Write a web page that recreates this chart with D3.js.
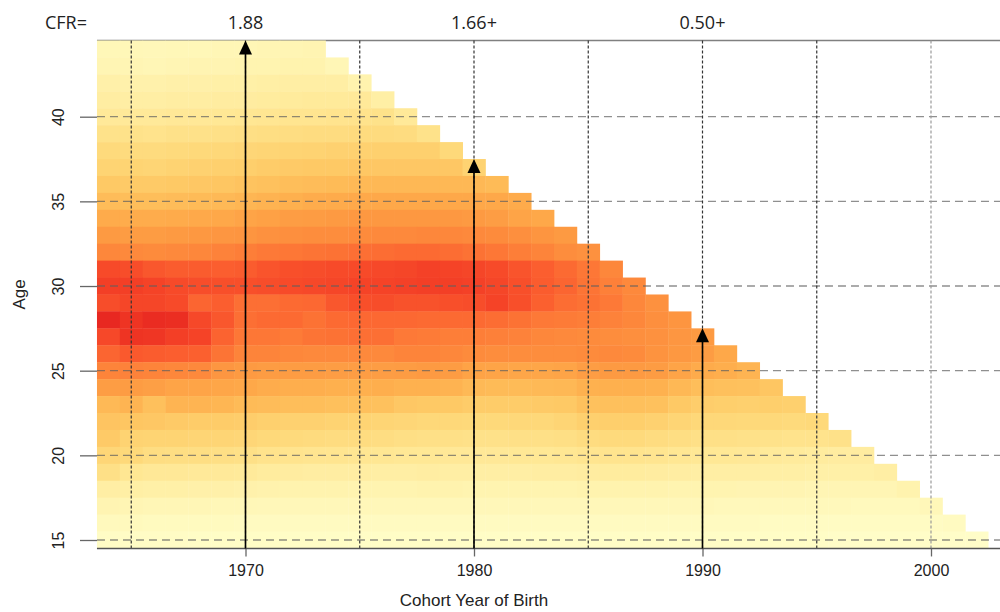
<!DOCTYPE html>
<meta charset="utf-8">
<style>
body { margin: 0; background: #fff; }
text { font-family: "Liberation Sans", Arial, sans-serif; fill: #222; }
.tick text { font-size: 16px; }
.title { font-size: 17px; }
.cfr { font-family: "Open Sans", "Noto Sans", sans-serif; font-size: 18px; fill: #222; }
</style>
<body>

<script src="https://d3js.org/d3.v7.min.js"></script>
<script>

// cohort fertility rates per 1000 women, one row per age (44 down to 15),
// each row starts at the 1964 cohort and stops at the last observed cohort
var firstCohort = 1964;
var ages = [44,43,42,41,40,39,38,37,36,35,34,33,32,31,30,29,28,27,26,25,24,23,22,21,20,19,18,17,16,15];
var rates = [
  [11,11,10,11,11,12,12,13,13,14],
  [13,13,12,13,14,14,15,15,16,16, 12],
  [19,18,18,19,19,20,20,21,22,22, 22,16],
  [23,22,22,23,23,24,24,25,26,27, 27,28,21],
  [28,28,28,29,29,30,31,32,33,33, 34,35,36,28],
  [36,36,35,37,37,38,39,40,41,42, 42,43,43,42,36],
  [44,43,43,44,45,46,47,48,49,50, 51,51,52,52,52,45],
  [49,49,48,50,51,52,53,55,56,57, 57,58,58,58,58,58,50],
  [57,56,56,57,58,59,61,62,64,65, 66,67,68,68,68,68,68,66],
  [65,64,64,65,66,67,69,71,73,75, 76,77,78,78,78,78,78,78,76],
  [76,75,75,76,77,78,80,82,84,85, 86,87,87,87,87,87,86,84,80,78],
  [86,85,85,86,87,88,89,91,92,93, 93,94,95,95,96,96,95,94,92,89, 86],
  [96,95,94,95,96,98,100,102,103,104, 105,106,107,108,108,107,105,103,100,97, 93,91],
  [121,120,116,114,114,113,114,117,119,120, 121,121,122,123,125,124,123,121,117,113, 108,103,96],
  [126,126,124,121,120,119,119,120,121,122, 123,124,124,125,126,126,125,123,119,114, 110,104,99,95],
  [120,123,123,121,110,113,106,106,108,109, 116,119,120,118,118,119,120,124,119,112, 107,105,102,96,91],
  [137,131,135,134,122,116,106,108,108,105, 108,109,109,109,108,108,108,107,105,102, 101,100,98,96,92,89],
  [122,131,130,126,124,111,103,103,101,104, 105,106,106,102,101,100,100,99,98,96, 95,94,93,92,91,88,86],
  [110,115,114,113,112,104,97,97,96,95, 95,95,95,97,97,96,94,93,93,93, 93,94,95,94,90,87,85,78],
  [97,98,97,96,95,88,86,85,85,85, 84,84,84,85,86,85,81,80,79,79, 80,84,86,86,85,80,76,74,70],
  [84,85,83,80,80,79,78,75,74,74, 73,73,74,72,72,71,67,66,66,67, 68,72,73,73,72,68,64,63,62,59],
  [67,70,63,70,70,69,66,65,64,64, 63,63,62,58,57,57,55,55,55,56, 57,62,63,63,62,57,54,53,52,53, 52],
  [60,59,58,56,55,55,54,52,51,51, 50,49,48,47,46,46,45,45,46,46, 48,52,53,53,51,48,46,46,45,45, 44,45],
  [56,50,49,49,48,48,47,45,44,43, 42,42,41,39,38,38,37,37,38,38, 39,42,44,44,42,40,38,38,37,36, 35,35,37],
  [47,45,41,40,40,39,38,35,34,33, 33,32,31,30,30,29,29,29,30,30, 31,33,34,34,33,31,30,30,29,27, 26,25,24,24],
  [38,31,29,29,28,28,27,25,24,23, 23,23,22,22,23,22,22,22,22,23, 23,24,25,25,24,23,22,22,22,21, 21,20,20,20,22],
  [22,21,20,20,19,19,18,17,16,16, 16,15,15,15,16,16,15,15,15,15, 15,16,16,16,16,15,15,15,14,14, 14,13,13,13,13,16],
  [14,13,12,12,12,11,11,10,10,10, 10,10,10,10,10,10,10,10,10,10, 10,10,10,10,10,10,10,9,9,9, 9,9,9,8,8,8,10],
  [8,8,7,7,7,7,6,6,6,6, 6,6,6,6,6,6,6,6,6,6, 6,6,6,6,6,6,6,6,6,5, 5,5,5,5,5,5,5,6],
  [4,4,4,4,3,3,3,3,3,3, 3,3,3,3,3,3,3,3,3,3, 3,3,3,3,3,3,3,3,3,3, 3,3,2,2,2,2,2,2,2]
];

var xTicks = [1970, 1980, 1990, 2000];
var yTicks = [15, 20, 25, 30, 35, 40];
var gridYears = [1965, 1970, 1975, 1980, 1985, 1990, 1995, 2000];
var arrowCohorts = [1970, 1980, 1990];
var cfrLabels = ["1.88", "1.66+", "0.50+"];

var width = 1000, height = 612;

var x = d3.scaleLinear().domain([1970, 2000]).range([245.5, 931]);
var y = d3.scaleLinear().domain([15, 40]).range([540, 116.7]);
var color = d3.scaleSequential(d3.interpolateYlOrRd).domain([0, 190]);

var cells = [];
ages.forEach(function(a, i) {
  rates[i].forEach(function(v, j) {
    cells.push({cohort: firstCohort + j, age: a, rate: v});
  });
});

var plotLeft = x(firstCohort - 0.5),
    plotRight = width,
    plotTop = y(d3.max(ages) + 0.5),
    plotBottom = y(d3.min(ages) - 0.5);

var svg = d3.select("body").append("svg")
    .attr("width", width)
    .attr("height", height);

// top frame line (hidden behind the cells where they reach it)
svg.append("line")
    .attr("x1", plotLeft).attr("x2", plotRight)
    .attr("y1", plotTop).attr("y2", plotTop)
    .attr("stroke", "#808080").attr("stroke-width", 1.6);

svg.append("g").selectAll("rect")
    .data(cells)
  .enter().append("rect")
    .attr("x", function(d) { return x(d.cohort - 0.5); })
    .attr("y", function(d) { return y(d.age + 0.5); })
    .attr("width", function(d) { return x(d.cohort + 0.5) - x(d.cohort - 0.5) + 0.4; })
    .attr("height", function(d) { return y(d.age - 0.5) - y(d.age + 0.5) + 0.4; })
    .attr("fill", function(d) { return color(d.rate); });

// grid
svg.append("g").selectAll("line")
    .data(yTicks)
  .enter().append("line")
    .attr("x1", plotLeft).attr("x2", plotRight)
    .attr("y1", function(d) { return y(d); })
    .attr("y2", function(d) { return y(d); })
    .attr("stroke", "#606060").attr("stroke-opacity", 0.7)
    .attr("stroke-width", 1.3)
    .attr("stroke-dasharray", "8,5");

svg.append("g").selectAll("line")
    .data(gridYears)
  .enter().append("line")
    .attr("x1", function(d) { return x(d); })
    .attr("x2", function(d) { return x(d); })
    .attr("y1", plotTop).attr("y2", plotBottom)
    .attr("stroke", function(d) { return d === 2000 ? "#999" : "#333"; })
    .attr("stroke-width", 1.2)
    .attr("stroke-dasharray", "3,2");

// axes
svg.append("line")
    .attr("x1", plotLeft).attr("x2", plotRight)
    .attr("y1", plotBottom).attr("y2", plotBottom)
    .attr("stroke", "#555").attr("stroke-width", 1.5);

var xAxis = svg.append("g")
    .attr("transform", "translate(0," + plotBottom + ")")
    .call(d3.axisBottom(x).tickValues(xTicks).tickFormat(d3.format("d"))
      .tickSize(8).tickPadding(8));
xAxis.select(".domain").remove();
xAxis.selectAll(".tick line").attr("stroke", "#666").attr("stroke-width", 1.3);
xAxis.selectAll(".tick text").attr("fill", "#222");

var yAxis = svg.append("g")
    .attr("transform", "translate(" + plotLeft + ",0)")
    .call(d3.axisLeft(y).tickValues(yTicks).tickSize(17));
yAxis.select(".domain").remove();
yAxis.selectAll(".tick line").attr("stroke", "#666").attr("stroke-width", 1.3);
yAxis.selectAll(".tick text")
    .attr("transform", "rotate(-90)")
    .attr("x", 0).attr("y", -33).attr("dy", 0)
    .attr("fill", "#222")
    .style("text-anchor", "middle");

// arrows up to the last observed age of each cohort
arrowCohorts.forEach(function(c) {
  var tip = y(d3.max(cells.filter(function(d) { return d.cohort === c; }), function(d) { return d.age; }) + 0.5);
  var cx = x(c);
  svg.append("line")
      .attr("x1", cx).attr("x2", cx)
      .attr("y1", plotBottom).attr("y2", tip + 10)
      .attr("stroke", "#000").attr("stroke-width", 1.6);
  svg.append("path")
      .attr("d", "M" + cx + "," + tip + "L" + (cx - 6.5) + "," + (tip + 14) + "L" + (cx + 6.5) + "," + (tip + 14) + "Z")
      .attr("fill", "#000");
});

svg.append("text")
    .attr("class", "cfr")
    .attr("x", 66).attr("y", 29)
    .attr("text-anchor", "middle")
    .text("CFR=");

svg.append("g").selectAll("text")
    .data(arrowCohorts)
  .enter().append("text")
    .attr("class", "cfr")
    .attr("x", function(d) { return x(d); })
    .attr("y", 29)
    .attr("text-anchor", "middle")
    .text(function(d, i) { return cfrLabels[i]; });

svg.append("text")
    .attr("class", "title")
    .attr("x", x(1980)).attr("y", 606)
    .attr("text-anchor", "middle")
    .text("Cohort Year of Birth");

svg.append("text")
    .attr("class", "title")
    .attr("transform", "translate(25," + y(29.5) + ") rotate(-90)")
    .attr("text-anchor", "middle")
    .text("Age");

</script>
</body>
